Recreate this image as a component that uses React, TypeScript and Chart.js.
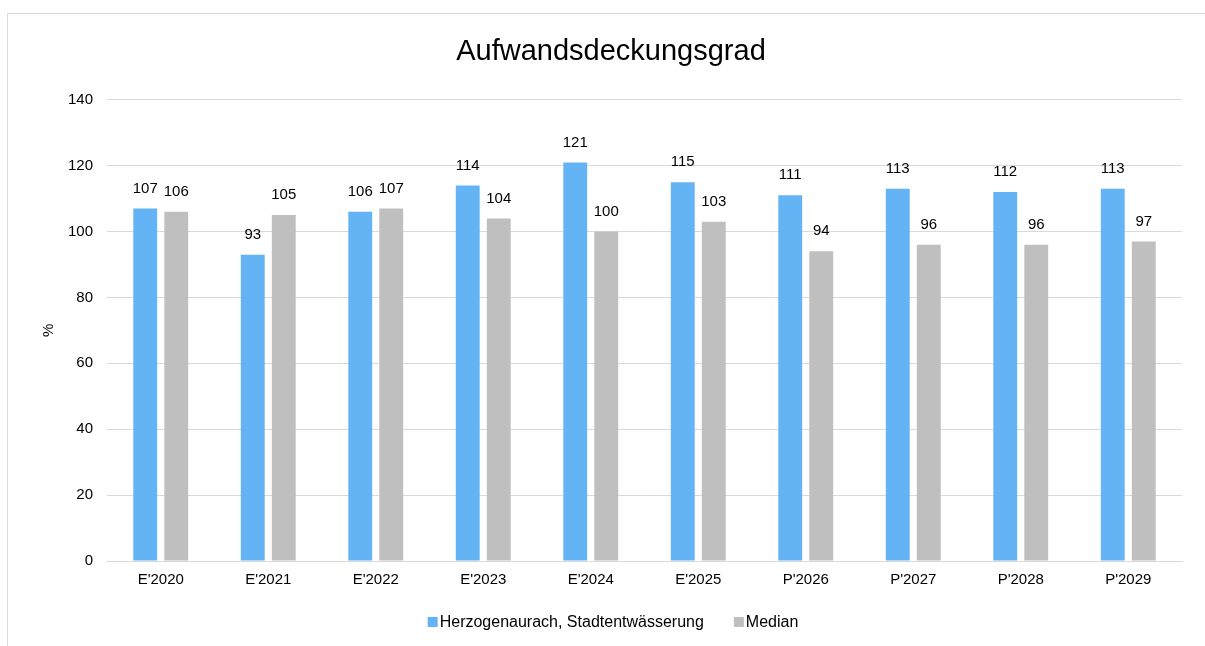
import React, { useEffect, useRef } from "react";
import { Chart, registerables } from "chart.js";

Chart.register(...registerables);

const categories = ["E'2020", "E'2021", "E'2022", "E'2023", "E'2024", "E'2025", "P'2026", "P'2027", "P'2028", "P'2029"];
const herzogenaurach = [107, 93, 106, 114, 121, 115, 111, 113, 112, 113];
const median = [106, 105, 107, 104, 100, 103, 94, 96, 96, 97];
const yTicks = [0, 20, 40, 60, 80, 100, 120, 140];

const FONT = "'Liberation Sans', Arial, sans-serif";
const BLUE = "#63B3F5";
const GRAY = "#BFBFBF";

const valueLabels = {
  id: "valueLabels",
  afterDatasetsDraw(chart: any) {
    const ctx = chart.ctx;
    ctx.save();
    ctx.font = `15px ${FONT}`;
    ctx.fillStyle = "#000";
    ctx.textAlign = "center";
    ctx.textBaseline = "middle";
    chart.data.datasets.forEach((ds: any, i: number) => {
      const meta = chart.getDatasetMeta(i);
      meta.data.forEach((bar: any, j: number) => {
        ctx.fillText(String(ds.data[j]), bar.x, bar.y - 20);
      });
    });
    ctx.restore();
  },
};

const frame = {
  id: "frame",
  beforeDraw(chart: any) {
    const ctx = chart.ctx;
    ctx.save();
    ctx.fillStyle = "#fff";
    ctx.fillRect(0, 0, chart.width, chart.height);
    ctx.strokeStyle = "#D9D9D9";
    ctx.lineWidth = 1;
    ctx.beginPath();
    ctx.moveTo(7.5, chart.height);
    ctx.lineTo(7.5, 13.5);
    ctx.lineTo(chart.width, 13.5);
    ctx.stroke();
    ctx.restore();
  },
};

const customLegend = {
  id: "customLegend",
  afterDraw(chart: any) {
    const ctx = chart.ctx;
    ctx.save();
    ctx.font = `16px ${FONT}`;
    ctx.textBaseline = "middle";
    ctx.textAlign = "left";
    const items = chart.data.datasets.map((ds: any) => ({
      text: ds.label,
      color: ds.backgroundColor,
      w: ctx.measureText(ds.label).width,
    }));
    const box = 10;
    const gapBox = 2;
    const gapItem = 30;
    const total =
      items.reduce((s: number, it: any) => s + box + gapBox + it.w, 0) + gapItem * (items.length - 1);
    let x = 613 - total / 2;
    const y = 622;
    items.forEach((it: any) => {
      ctx.fillStyle = it.color;
      ctx.fillRect(x, y - box / 2, box, box);
      x += box + gapBox;
      ctx.fillStyle = "#000";
      ctx.fillText(it.text, x, y + 1);
      x += it.w + gapItem;
    });
    ctx.restore();
  },
};

export default function App() {
  const ref = useRef<HTMLCanvasElement>(null);
  useEffect(() => {
    document.body.style.margin = "0";
    const chart = new Chart(ref.current as HTMLCanvasElement, {
      type: "bar",
      data: {
        labels: categories,
        datasets: [
          {
            label: "Herzogenaurach, Stadtentwässerung",
            data: herzogenaurach,
            backgroundColor: BLUE,
            borderWidth: 0,
            categoryPercentage: 0.577,
            barPercentage: 0.77,
          },
          {
            label: "Median",
            data: median,
            backgroundColor: GRAY,
            borderWidth: 0,
            categoryPercentage: 0.577,
            barPercentage: 0.77,
          },
        ],
      },
      options: {
        animation: false,
        responsive: false,
        layout: { padding: { left: 40, right: 23, top: 0, bottom: 47 } },
        plugins: {
          title: {
            display: true,
            text: "Aufwandsdeckungsgrad",
            color: "#000",
            font: { family: FONT, size: 29, weight: "normal" },
            padding: { top: 35, bottom: 30 },
          },
          legend: { display: false },
          tooltip: { enabled: false },
        },
        scales: {
          x: {
            grid: { display: false, drawTicks: false },
            border: { color: "#D9D9D9" },
            ticks: { color: "#000", font: { family: FONT, size: 15 }, padding: 10 },
          },
          y: {
            min: 0,
            max: 140,
            afterBuildTicks(scale: any) {
              scale.ticks = yTicks.map((v) => ({ value: v }));
            },
            afterFit(scale: any) {
              scale.width = 67;
            },
            grid: { color: "#D9D9D9", drawTicks: false },
            border: { display: false },
            ticks: { color: "#000", font: { family: FONT, size: 15 }, padding: 14 },
            title: {
              display: true,
              text: "%",
              color: "#000",
              font: { family: FONT, size: 15 },
              padding: 0,
            },
          },
        },
      },
      plugins: [frame, valueLabels, customLegend],
    });
    return () => chart.destroy();
  }, []);
  return <canvas ref={ref} width={1205} height={646} style={{ display: "block" }} />;
}
